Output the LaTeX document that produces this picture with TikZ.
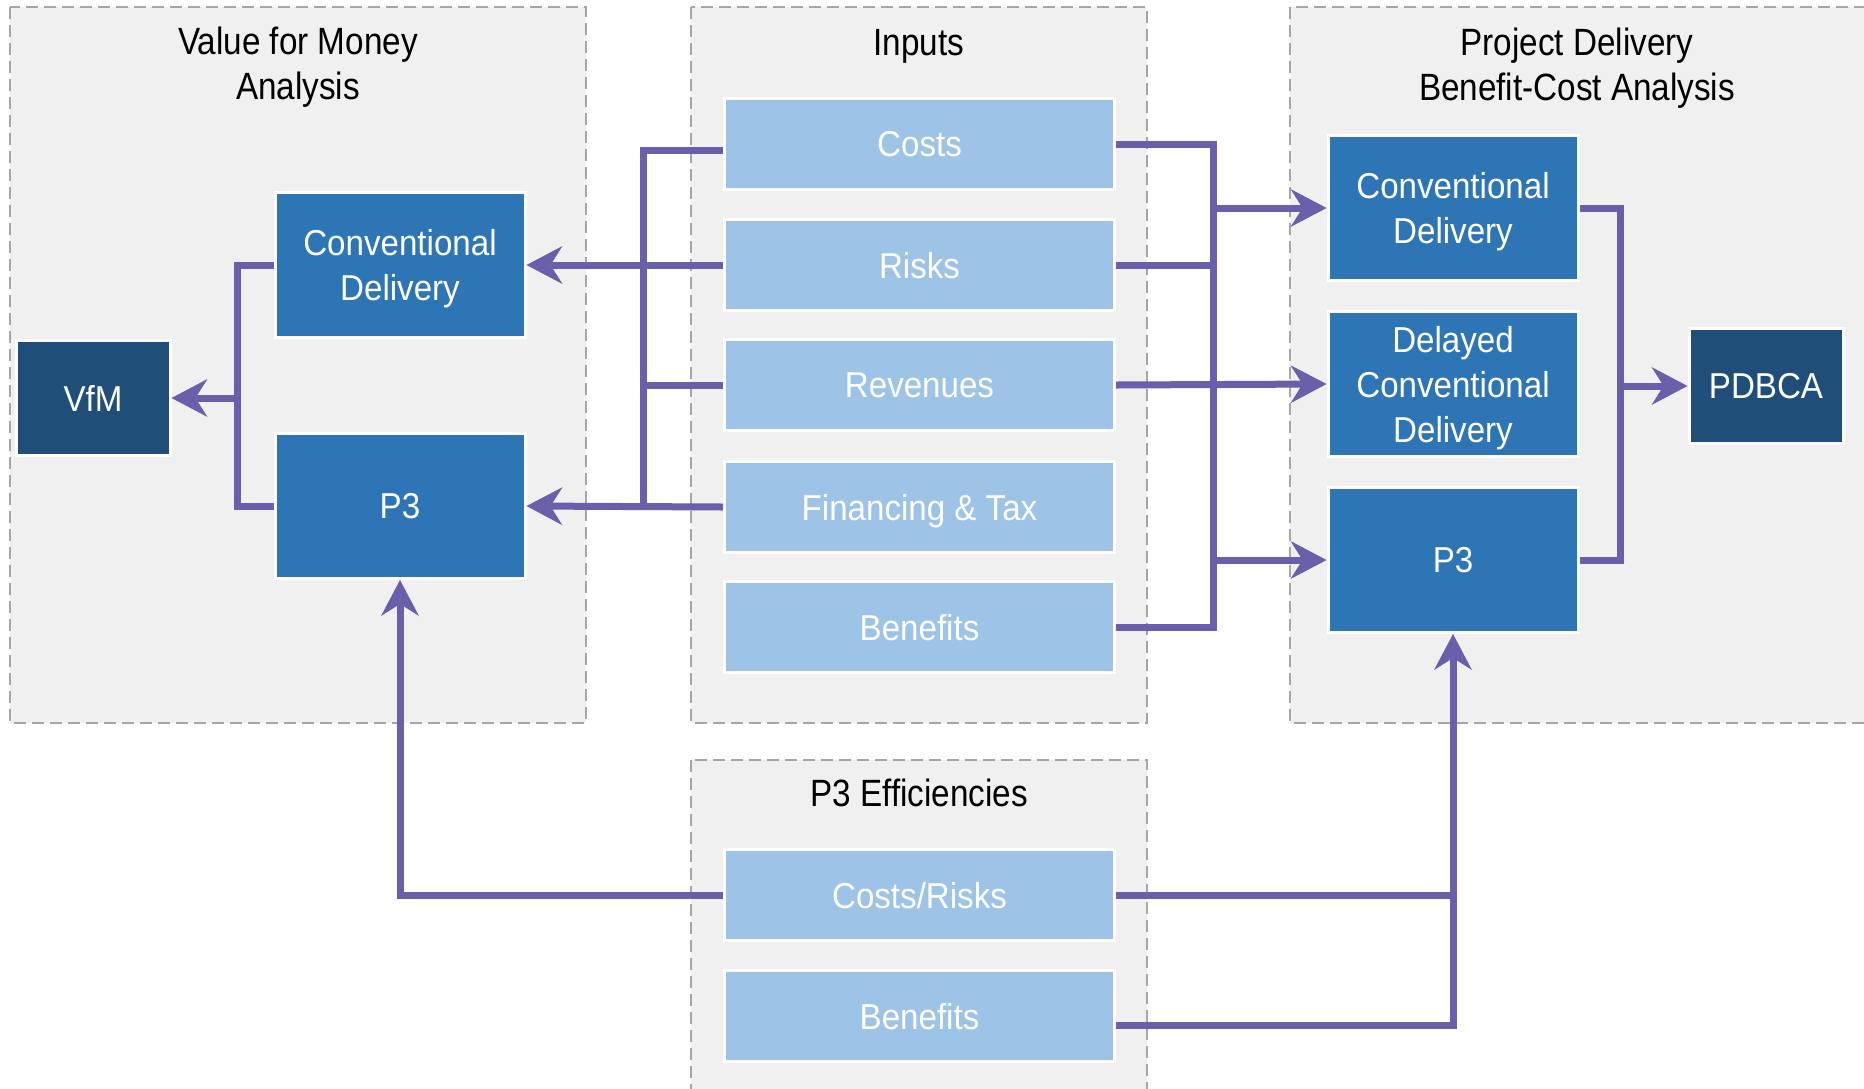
\documentclass[tikz,border=0pt]{standalone}
\usepackage{fontspec}
\newfontfamily\narrowsans[FakeStretch=0.875]{Liberation Sans}
\newfontfamily\boxsans[FakeStretch=0.92]{Liberation Sans}
\usetikzlibrary{arrows.meta}
\definecolor{panelfill}{HTML}{F0F0F0}
\definecolor{panelline}{HTML}{A6A6A6}
\definecolor{lightblue}{HTML}{9DC3E6}
\definecolor{midblue}{HTML}{2E75B6}
\definecolor{darkblue}{HTML}{1F4E79}
\definecolor{flow}{HTML}{6A5FAA}

\begin{document}
\begin{tikzpicture}[x=1pt,y=-1pt,
  panel/.style={draw=panelline, fill=panelfill, line width=2pt, dash pattern=on 12pt off 6pt},
  paneltitle/.style={anchor=north, align=center, inner sep=0pt, text=black,
    font=\narrowsans\fontsize{38}{45}\selectfont},
  box/.style={draw=white, line width=3pt, text=white, align=center, inner sep=0pt,
    text depth=0pt, font=\boxsans\fontsize{36}{45}\selectfont},
  inbox/.style={box, fill=lightblue, minimum width=390pt, minimum height=91pt},
  dbox/.style={box, fill=midblue, minimum width=250pt, minimum height=145pt},
  rbox/.style={box, fill=darkblue, minimum width=154pt, minimum height=115pt},
  link/.style={draw=flow, line width=7pt},
  arr/.style={link, -{Stealth[length=36pt, width=38pt, inset=12pt, line width=0pt]}},
]
\fill[white] (0,0) rectangle (1864,1088);
\useasboundingbox (0,0) rectangle (1864,1088);

% grouping panels
\draw[panel] (10,7) rectangle (586,723);
\draw[panel] (691,7) rectangle (1147,723);
\draw[panel] (1290,7) rectangle (1870,723);
\draw[panel] (691,760) rectangle (1147,1095);

% panel titles
\node[paneltitle] (tvfm) at (298,27) {Value for Money\\Analysis};
\node[paneltitle] (tin) at (919,29) {Inputs};
\node[paneltitle] (tpd) at (1577,28) {Project Delivery\\Benefit-Cost Analysis};
\node[paneltitle] (teff) at (919,779) {P3 Efficiencies};

% value for money analysis
\node[rbox] (vfm) at (93,398) {VfM};
\node[dbox] (cdl) at (400,265) {Conventional\\Delivery};
\node[dbox] (ppl) at (400,506) {P3};

% inputs
\node[inbox] (costs) at (919.5,144) {Costs};
\node[inbox] (risks) at (919.5,265) {Risks};
\node[inbox] (rev) at (919.5,385) {Revenues};
\node[inbox] (fin) at (919.5,507) {Financing \& Tax};
\node[inbox] (ben) at (919.5,627) {Benefits};

% project delivery benefit-cost analysis
\node[dbox] (cdr) at (1453,208) {Conventional\\Delivery};
\node[dbox] (dcd) at (1453,384) {Delayed\\Conventional\\Delivery};
\node[dbox] (ppr) at (1453,560) {P3};
\node[rbox] (pdb) at (1766,386) {PDBCA};

% p3 efficiencies
\node[inbox] (ecr) at (919.5,895) {Costs/Risks};
\node[inbox] (eben) at (919.5,1016) {Benefits};

% bus positions
\coordinate (lbus) at (643,0);
\coordinate (rbus) at (1213,0);
\coordinate (vbus) at (237,0);
\coordinate (pbus) at (1620,0);

% inputs -> VfM models
\draw[link] ([yshift=-6pt]costs.west) -| (lbus |- fin.west);
\draw[link] (rev.west) -- (lbus |- rev.west);
\draw[arr] (risks.west) -- (cdl.east);
\draw[arr] (fin.west) -- (ppl.east);

% VfM models -> VfM
\draw[link] (cdl.west) -| (vbus |- ppl.west) -- (ppl.west);
\draw[arr] (vbus |- vfm.east) -- (vfm.east);

% inputs -> PDBCA models
\draw[link] (costs.east) -| (rbus |- ben.east) -- (ben.east);
\draw[link] (risks.east) -- (rbus |- risks.east);
\draw[arr] (rbus |- cdr.west) -- (cdr.west);
\draw[arr] (rbus |- ppr.west) -- (ppr.west);
\draw[arr] (rev.east) -- (dcd.west);

% PDBCA models -> PDBCA
\draw[link] (cdr.east) -| (pbus |- ppr.east) -- (ppr.east);
\draw[arr] (pbus |- pdb.west) -- (pdb.west);

% efficiencies -> P3 models
\draw[arr] (ecr.west) -| (ppl.south);
\draw[arr] ([yshift=-9pt]eben.east) -| (ppr.south);
\draw[link] (ecr.east) -- (ppr.south |- ecr.east);
\end{tikzpicture}
\end{document}
